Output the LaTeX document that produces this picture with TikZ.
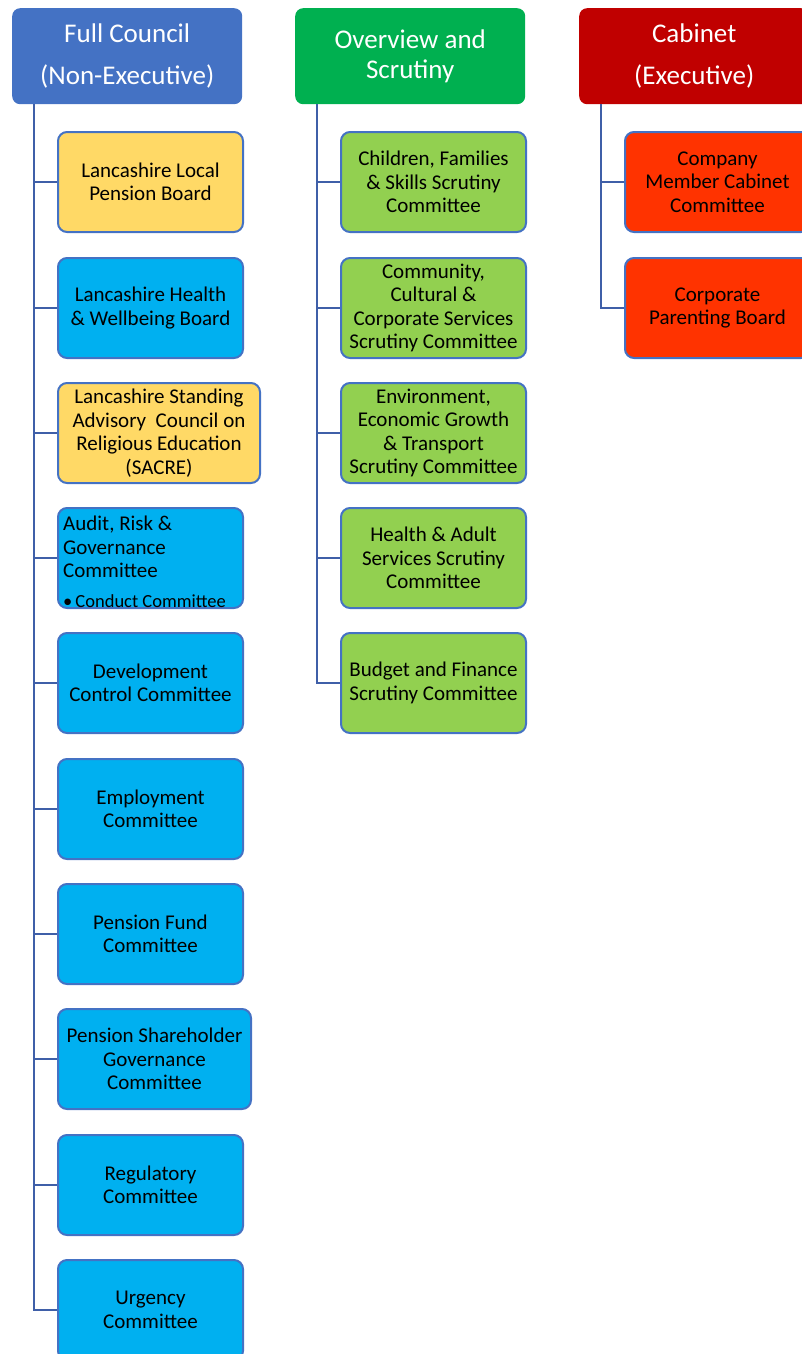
\documentclass[tikz,border=0pt]{standalone}
\usepackage{fontspec}
\setmainfont{Carlito}
\definecolor{headblue}{HTML}{4472C4}
\definecolor{headgreen}{HTML}{00B050}
\definecolor{headred}{HTML}{C00000}
\definecolor{boxyellow}{HTML}{FFD966}
\definecolor{boxblue}{HTML}{00B0F0}
\definecolor{boxgreen}{HTML}{92D050}
\definecolor{boxred}{HTML}{FF3300}
\definecolor{lineblue}{HTML}{3F5FA8}
\tikzset{
  head/.style={rounded corners=8pt, text=white, align=center, inner sep=0pt,
    minimum width=230pt, minimum height=96pt, anchor=north west,
    font=\fontsize{27}{30}\selectfont},
  sub/.style={draw=headblue, line width=2pt, rounded corners=9pt, align=center,
    inner sep=0pt, minimum width=185pt, minimum height=100pt, anchor=north west,
    font=\fontsize{21}{23.5}\selectfont},
  link/.style={draw=lineblue, line width=2.5pt}
}
\begin{document}
\begin{tikzpicture}[x=1pt,y=-1pt]
  \useasboundingbox (0,0) rectangle (802,1354);
  \clip (0,0) rectangle (802,1354);
  % heads
  \node[head, fill=headblue] (fc) at (12,8) {Full Council\\[12pt](Non-Executive)};
  \node[head, fill=headgreen] (os) at (295,8) {Overview and\\Scrutiny};
  \node[head, fill=headred] (cab) at (579,8) {Cabinet\\[12pt](Executive)};
  % full council
  \node[sub, fill=boxyellow] (lpb) at (57,131) {Lancashire Local\\Pension Board};
  \node[sub, fill=boxblue] (hwb) at (57,257) {Lancashire Health\\\& Wellbeing Board};
  \node[sub, fill=boxyellow, minimum width=202pt] (sacre) at (57,382) {Lancashire Standing\\Advisory~~Council on\\Religious Education\\(SACRE)};
  \node[sub, fill=boxblue] (arg) at (57,507) {};
  \node[anchor=north west, align=left, inner sep=0pt, font=\fontsize{21}{23.5}\selectfont] (argtext)
    at ([xshift=6pt,yshift=-9pt]arg.north west)
    {Audit, Risk \&\\Governance\\Committee\\[6pt]{\fontsize{18.5}{20}\selectfont•\,Conduct Committee}};
  \node[sub, fill=boxblue] (dcc) at (57,632) {Development\\Control Committee};
  \node[sub, fill=boxblue] (emp) at (57,758) {Employment\\Committee};
  \node[sub, fill=boxblue] (pfc) at (57,883) {Pension Fund\\Committee};
  \node[sub, fill=boxblue, minimum width=193pt] (psg) at (57,1008) {Pension Shareholder\\Governance\\Committee};
  \node[sub, fill=boxblue] (reg) at (57,1134) {Regulatory\\Committee};
  \node[sub, fill=boxblue] (urg) at (57,1259) {Urgency\\Committee};
  % overview and scrutiny
  \node[sub, fill=boxgreen] (cfs) at (340,131) {Children, Families\\\& Skills Scrutiny\\Committee};
  \node[sub, fill=boxgreen] (ccc) at (340,257) {Community,\\Cultural \&\\Corporate Services\\Scrutiny Committee};
  \node[sub, fill=boxgreen] (eeg) at (340,382) {Environment,\\Economic Growth\\\& Transport\\Scrutiny Committee};
  \node[sub, fill=boxgreen] (has) at (340,507) {Health \& Adult\\Services Scrutiny\\Committee};
  \node[sub, fill=boxgreen] (bfs) at (340,632) {Budget and Finance\\Scrutiny Committee};
  % cabinet
  \node[sub, fill=boxred] (cmc) at (624,131) {Company\\Member Cabinet\\Committee};
  \node[sub, fill=boxred] (cpb) at (624,257) {Corporate\\Parenting Board};
  % links
  \foreach \b in {lpb,hwb,sacre,arg,dcc,emp,pfc,psg,reg,urg}
    \draw[link] ([xshift=22pt]fc.south west) |- (\b.west);
  \foreach \b in {cfs,ccc,eeg,has,bfs}
    \draw[link] ([xshift=22pt]os.south west) |- (\b.west);
  \foreach \b in {cmc,cpb}
    \draw[link] ([xshift=22pt]cab.south west) |- (\b.west);
\end{tikzpicture}
\end{document}
